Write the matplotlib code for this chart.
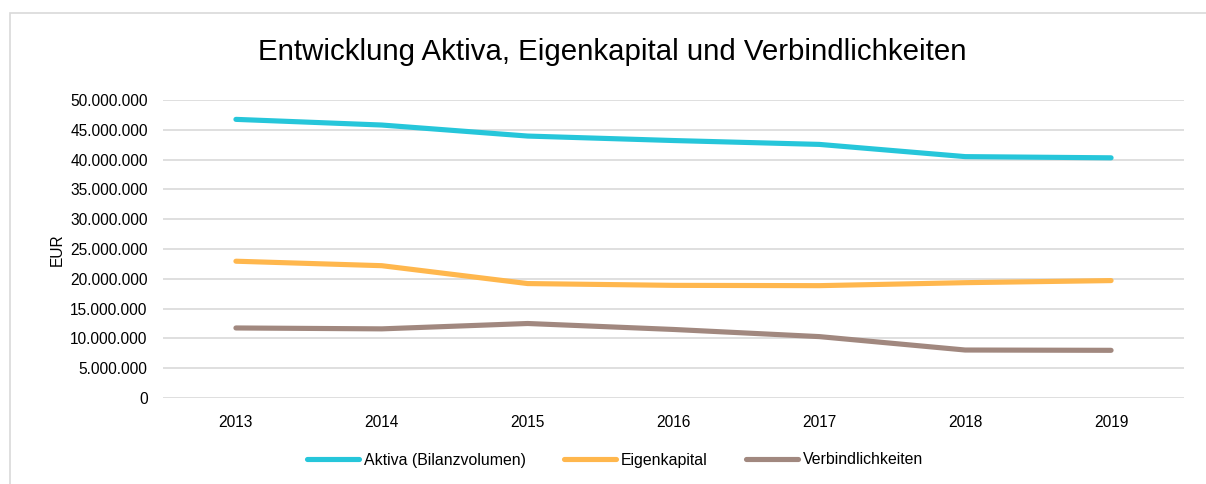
import matplotlib.pyplot as plt
from matplotlib.ticker import FuncFormatter, MultipleLocator
from matplotlib.patches import Rectangle

plt.rcParams['font.family'] = ['Liberation Sans', 'DejaVu Sans']

# --- Daten ---
jahre = ['2013', '2014', '2015', '2016', '2017', '2018', '2019']
aktiva = [46.75e6, 45.8e6, 43.95e6, 43.2e6, 42.55e6, 40.5e6, 40.3e6]
eigenkapital = [22.95e6, 22.2e6, 19.2e6, 18.9e6, 18.85e6, 19.35e6, 19.7e6]
verbindlichkeiten = [11.75e6, 11.6e6, 12.5e6, 11.5e6, 10.3e6, 8.05e6, 8.0e6]

serien = [
    ('Aktiva (Bilanzvolumen)', aktiva, '#26C6DA'),
    ('Eigenkapital', eigenkapital, '#FFB74D'),
    ('Verbindlichkeiten', verbindlichkeiten, '#A1887F'),
]

W, H = 1206, 484
fig = plt.figure(figsize=(W / 100, H / 100), dpi=100)

# Rahmen um das Diagramm (nur links/oben sichtbar)
fig.patches.append(Rectangle((10 / W, -0.1), 1.2, 1 - 13 / H + 0.1, transform=fig.transFigure,
                             fill=False, edgecolor='#d9d9d9', linewidth=1.2))

ax = fig.add_axes([163 / W, 1 - 398 / H, (1184 - 163) / W, (398 - 100) / H])

x = range(len(jahre))
for name, werte, farbe in serien:
    ax.plot(x, werte, color=farbe, linewidth=3.7, solid_capstyle='round',
            solid_joinstyle='round', label=name, zorder=3)

ax.set_xlim(-0.5, len(jahre) - 0.5)
ax.set_ylim(0, 50e6)
ax.yaxis.set_major_locator(MultipleLocator(5e6))
ax.yaxis.set_major_formatter(FuncFormatter(lambda v, p: f"{int(v):,}".replace(',', '.')))
ax.set_xticks(list(x))
ax.set_xticklabels(jahre)

ax.grid(axis='y', color='#d9d9d9', linewidth=1.2, zorder=0)
for s in ax.spines.values():
    s.set_visible(False)
ax.tick_params(axis='both', length=0, labelsize=11.2, labelcolor='#000000')
ax.tick_params(axis='y', pad=11)
ax.tick_params(axis='x', pad=12)

fig.text(57 / W, 1 - 250 / H, 'EUR', rotation=90, ha='center', va='center', fontsize=11.2)
fig.text(612 / W, 1 - 52 / H, 'Entwicklung Aktiva, Eigenkapital und Verbindlichkeiten',
         ha='center', va='center', fontsize=21.2)

fig.legend(loc='center', bbox_to_anchor=(615 / W, 1 - 460 / H), ncol=3, frameon=False,
           fontsize=11.4, handlelength=3.3, handletextpad=0.3, columnspacing=2.4)

fig.savefig('out.png', dpi=100)
